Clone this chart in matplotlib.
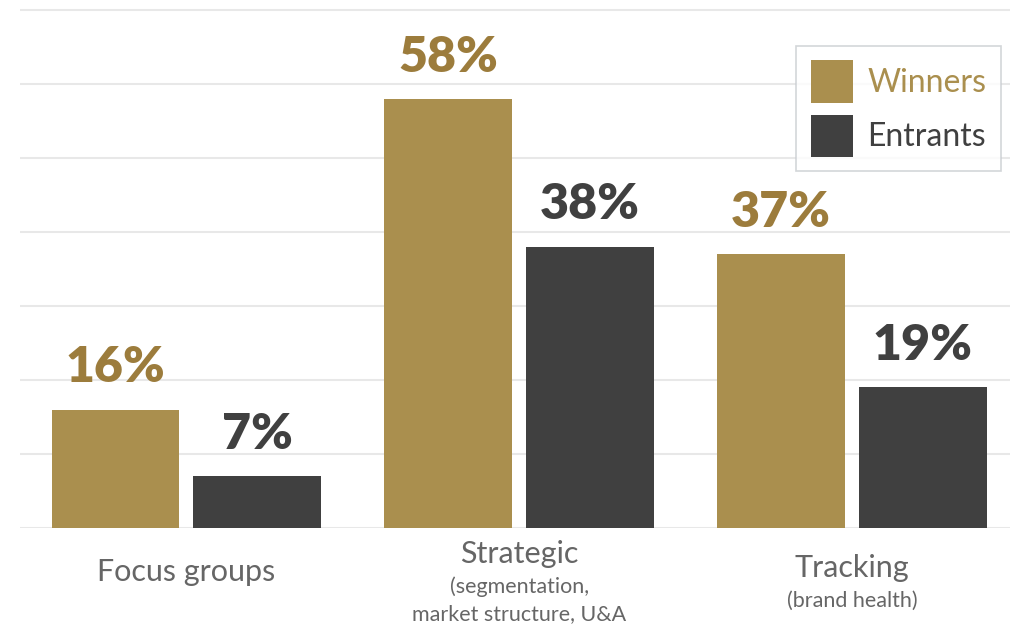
import matplotlib.pyplot as plt
import matplotlib.transforms as mtransforms
from matplotlib.patches import Patch

categories = ["Focus groups", "Strategic", "Tracking"]
subtitles = [[], ["(segmentation,", "market structure, U&A"], ["(brand health)"]]
winners = [16, 58, 37]
entrants = [7, 38, 19]

GOLD = "#aa8f4e"
GOLD_TEXT = "#9c7c3c"
DARK = "#404040"
GREY_TEXT = "#666666"

W, H = 1010, 626
fig = plt.figure(figsize=(W / 100, H / 100), dpi=100)
# axes box in pixels: left 20, baseline at 528, top gridline at 8
ax = fig.add_axes([20 / W, (H - 528) / H, 1 - 20 / W, 520 / H])

x = list(range(len(categories)))
width = 0.384
off = 0.213
ax.bar([i - off for i in x], winners, width, color=GOLD, zorder=3)
ax.bar([i + off for i in x], entrants, width, color=DARK, zorder=3)

for i in x:
    ax.annotate(f"{winners[i]}%", (i - off, winners[i]), xytext=(0, 14),
                textcoords="offset points", ha="center", va="bottom",
                fontsize=36, fontweight="heavy", family="Lato", color=GOLD_TEXT)
    ax.annotate(f"{entrants[i]}%", (i + off, entrants[i]), xytext=(0, 14),
                textcoords="offset points", ha="center", va="bottom",
                fontsize=36, fontweight="heavy", family="Lato", color=DARK)

ax.set_xlim(-0.5, 2.475)
ax.set_ylim(0, 70.3)
ax.set_yticks(range(0, 71, 10))
ax.yaxis.grid(True, color="#e8e8e8", linewidth=1.5, zorder=0)
ax.set_xticks([])
ax.tick_params(left=False, labelleft=False)
for s in ax.spines.values():
    s.set_visible(False)

# category labels below the baseline, positioned in pixels from the top
trans = mtransforms.blended_transform_factory(ax.transData, fig.transFigure)
main_y = [581, 563, 577]
for i, name in enumerate(categories):
    ax.text(i, 1 - main_y[i] / H, name, transform=trans, ha="center",
            va="baseline", fontsize=22, family="Lato", color=GREY_TEXT)
    for j, line in enumerate(subtitles[i]):
        ax.text(i, 1 - (main_y[i] + 30 + 27 * j) / H, line, transform=trans,
                ha="center", va="baseline", fontsize=15.5, family="Lato",
                color=GREY_TEXT)

handles = [Patch(facecolor=GOLD, label="Winners"),
           Patch(facecolor=DARK, label="Entrants")]
leg = fig.legend(handles=handles, loc="upper right",
                 bbox_to_anchor=(1001 / W, 1 - 46 / H), frameon=True,
                 fancybox=False, prop={"family": "Lato", "size": 23},
                 handlelength=1.33, handleheight=1.66, handletextpad=0.45,
                 borderpad=0.45, labelspacing=0.38, borderaxespad=0)
leg.get_frame().set_edgecolor("#c8ccd0")
leg.get_frame().set_linewidth(1.2)
leg.get_texts()[0].set_color(GOLD)
leg.get_texts()[1].set_color(DARK)

fig.savefig("out.png", dpi=100)
